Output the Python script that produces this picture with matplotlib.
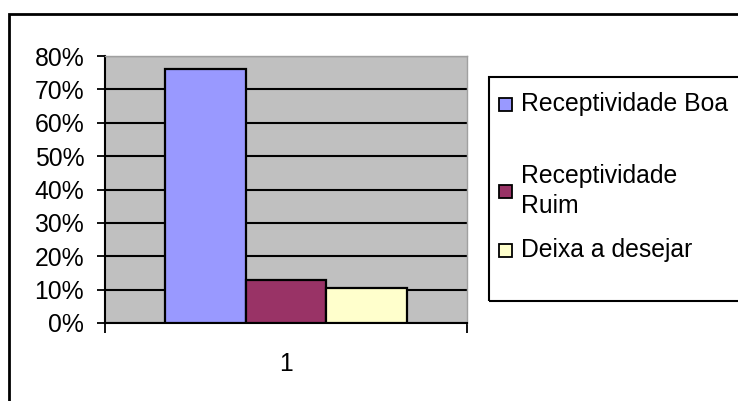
import numpy as np
import matplotlib.pyplot as plt
from matplotlib.patches import Rectangle

plt.rcParams['font.family'] = ['Liberation Sans', 'DejaVu Sans']

categories = ['1']
series = ['Receptividade Boa', 'Receptividade\nRuim', 'Deixa a desejar']
values = [0.76, 0.13, 0.105]
colors = ['#9999FF', '#993366', '#FFFFCC']
yticks = [0, 0.1, 0.2, 0.3, 0.4, 0.5, 0.6, 0.7, 0.8]

W, H = 738, 401
FS = 17.8
fig = plt.figure(figsize=(W / 100, H / 100), dpi=100)
ax = fig.add_axes([105 / W, 1 - 323 / H, (467 - 105) / W, (323 - 56) / H])
ax.set_facecolor('#C0C0C0')

# excel style: gap width 150%
width = 1 / 4.5
ind = np.arange(len(categories)) + 1
for i, (v, c) in enumerate(zip(values, colors)):
    ax.bar(ind + (i - 1) * width, v, width=width, color=c, edgecolor='black',
           linewidth=1.6, zorder=3)

ax.set_xlim(0.5, 1.5)
ax.set_ylim(0, 0.8)
ax.set_yticks(yticks)
ax.set_yticklabels(['%d%%' % round(t * 100) for t in yticks], fontsize=FS)
ax.yaxis.grid(True, color='black', linewidth=1.5, zorder=1)
ax.set_axisbelow(True)
ax.tick_params(axis='y', direction='out', length=6, width=1.3, pad=9)

ax.set_xticks(ind)
ax.set_xticklabels(categories, fontsize=FS)
ax.tick_params(axis='x', which='major', length=0, pad=21)
ax.set_xticks([0.5, 1.5], minor=True)
ax.tick_params(axis='x', which='minor', direction='out', length=7, width=1.3)

for s in ['top', 'right']:
    ax.spines[s].set_color('#A0A0A0')
    ax.spines[s].set_linewidth(1)
for s in ['left', 'bottom']:
    ax.spines[s].set_color('black')
    ax.spines[s].set_linewidth(1.5)

# outer chart frame (right and bottom run off the picture)
fig.patches.append(Rectangle((9 / W, -0.05), 1.1, 1 - 14 / H + 0.05,
                             transform=fig.transFigure, fill=False,
                             edgecolor='black', linewidth=2))

# legend box
fig.patches.append(Rectangle((489 / W, 1 - 301 / H), 0.5, (301 - 77) / H,
                             transform=fig.transFigure, fill=False,
                             edgecolor='black', linewidth=1.5))
leg_y = [104, 191, 250]
for lab, c, y in zip(series, colors, leg_y):
    fig.patches.append(Rectangle((499 / W, 1 - (y + 7) / H), 13 / W, 13 / H,
                                 transform=fig.transFigure, facecolor=c,
                                 edgecolor='black', linewidth=1.3))
    fig.text(521 / W, 1 - y / H, lab, fontsize=FS, va='center', ha='left',
             linespacing=1.3)

fig.savefig('out.png', dpi=100)
